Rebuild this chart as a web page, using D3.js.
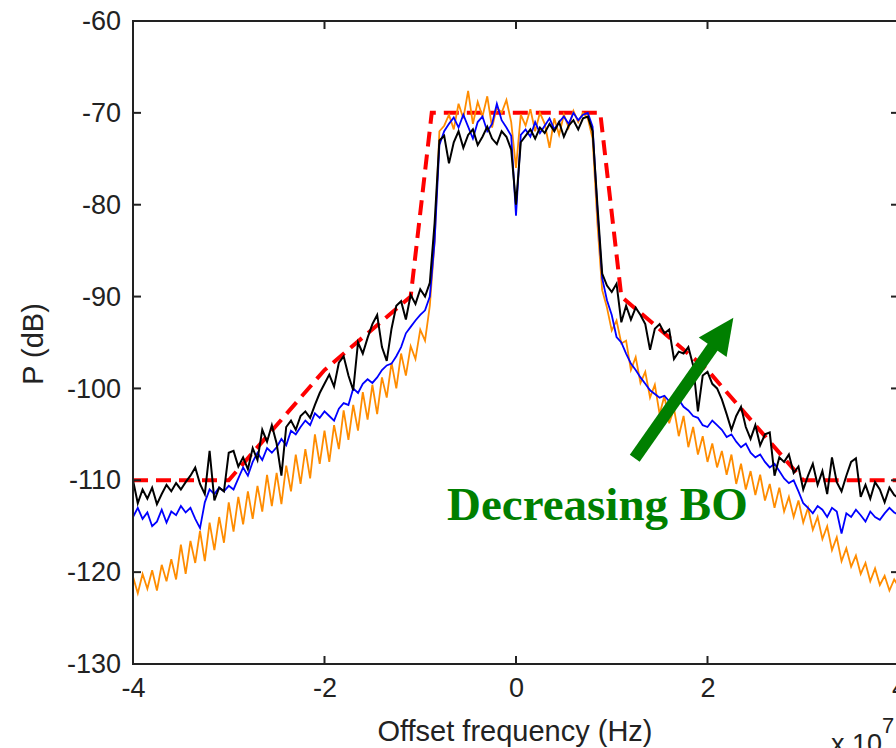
<!DOCTYPE html>
<html>
<head>
<meta charset="utf-8">
<script src="https://cdn.jsdelivr.net/npm/d3@7"></script>
<style>
  html, body { margin: 0; padding: 0; background: #fff; overflow: hidden; }
  svg { display: block; }
</style>
</head>
<body>
<svg id="chart" width="896" height="748"></svg>
<script>
// Spectrum samples: offset frequency grid in units of 1e7 Hz
const freqStart = -4;
const freqStep = 0.05;

// Measured PSD (dB) for three back-off settings
const blackTrace = [
  -110.0, -112.5, -111.0, -112.0, -110.8, -112.6, -111.5, -110.5, -111.2, -110.3,
  -111.0, -110.2, -109.5, -108.6, -110.4, -111.5, -106.8, -112.2, -110.8, -111.2,
  -107.0, -106.8, -108.5, -107.5, -108.8, -106.5, -107.8, -104.5, -105.8, -104.0,
  -106.0, -109.5, -104.2, -103.5, -104.5, -103.0, -102.5, -103.2, -101.8, -100.5,
  -99.5, -98.5, -99.8, -97.2, -96.5, -98.6, -100.2, -95.0, -96.2, -94.5,
  -93.0, -92.0, -95.5, -97.0, -93.5, -91.0, -90.5, -92.5, -89.8, -90.8,
  -89.2, -90.0, -88.5, -82.0, -73.0, -72.5, -75.5, -73.2, -72.0, -73.8,
  -72.4, -71.8, -73.5, -72.6, -71.5, -72.8, -73.4, -72.0, -72.6, -74.0,
  -80.0, -73.2, -72.5, -71.8, -72.8, -71.6, -72.2, -71.2, -72.0, -71.0,
  -72.6, -71.4, -70.8, -71.8, -70.6, -70.4, -72.0, -80.0, -87.5, -88.8,
  -89.5, -88.6, -92.8, -91.0, -92.5, -91.2, -92.0, -93.0, -95.8, -93.5,
  -93.0, -94.0, -93.6, -96.8, -96.0, -96.2, -95.5, -97.5, -102.5, -98.6,
  -98.2, -99.5, -100.0, -101.2, -102.8, -104.5, -103.0, -102.0, -104.2, -105.5,
  -104.0, -106.2, -105.0, -104.8, -109.5, -107.5, -108.0, -107.2, -109.2, -108.5,
  -111.0, -109.5, -108.2, -110.5, -109.0, -111.5, -107.5, -110.2, -111.2, -109.5,
  -108.0, -107.6, -111.8, -110.5, -112.0, -110.2, -111.0, -112.4, -110.8, -111.6,
  -112.0
];

const blueTrace = [
  -114.0, -113.0, -114.2, -113.5, -115.0, -114.5, -113.2, -114.6, -113.4, -113.8,
  -112.8, -113.5, -113.0, -114.2, -115.2, -112.4, -111.0, -111.5, -110.8, -111.2,
  -110.6, -111.0, -109.8, -108.6, -109.5, -108.0, -107.0, -107.8, -106.5, -107.0,
  -106.4, -105.5, -106.2, -104.6, -105.0, -104.2, -103.5, -104.0, -102.7, -103.2,
  -102.5, -103.0, -103.5, -102.2, -101.6, -101.8, -100.0, -100.5, -99.5, -99.0,
  -99.4, -98.8, -98.0, -97.5, -97.3, -96.5, -95.5, -94.0, -93.3, -92.6,
  -92.0, -91.5, -90.0, -84.0, -73.5, -72.0, -71.2, -70.5, -71.6, -70.2,
  -71.5, -72.8, -71.0, -70.4, -72.0, -71.2, -69.0, -70.8, -71.6, -72.5,
  -81.2, -72.4, -71.8, -72.6, -71.0, -72.2, -71.4, -70.6, -71.8, -71.0,
  -70.4, -71.2, -70.0, -70.8, -70.2, -70.0, -71.5, -80.5, -88.0, -90.4,
  -92.0, -94.4, -95.0, -96.2, -97.3, -98.0, -98.8, -99.5, -100.2, -100.6,
  -101.0, -100.8, -101.4, -101.6, -101.2, -102.0, -102.4, -103.0, -103.2, -104.0,
  -104.2, -103.5, -104.0, -104.5, -105.3, -105.0, -105.8, -106.4, -106.0, -107.0,
  -107.5, -107.2, -108.0, -108.6, -108.2, -109.0, -109.8, -110.3, -110.0, -111.2,
  -112.5, -113.0, -113.6, -112.8, -113.2, -114.0, -113.0, -113.4, -115.8, -113.6,
  -114.0, -113.2, -113.8, -114.5, -113.4, -114.0, -114.3, -113.6, -113.0, -113.5,
  -113.8
];

const orangeTrace = [
  -120.5, -122.3, -120.2, -121.8, -119.8, -122.0, -119.2, -121.0, -118.6, -120.8,
  -117.0, -120.2, -116.6, -119.0, -115.5, -118.8, -114.6, -117.6, -114.0, -116.8,
  -112.4, -115.6, -111.8, -114.8, -111.2, -114.2, -110.6, -113.4, -109.4, -112.8,
  -109.2, -112.6, -108.4, -111.2, -107.2, -110.4, -106.6, -109.8, -105.0, -108.2,
  -104.6, -108.0, -104.0, -106.6, -102.4, -105.6, -101.8, -104.6, -100.4, -103.4,
  -99.6, -102.8, -98.8, -101.0, -97.2, -100.0, -96.2, -98.6, -95.4, -96.8,
  -93.6, -94.8, -91.0, -84.0, -72.0, -71.4, -70.2, -71.8, -69.0, -70.6,
  -67.6, -71.2, -68.8, -70.4, -68.2, -71.6, -69.4, -70.0, -68.6, -71.0,
  -76.0, -70.2, -71.4, -69.6, -72.0, -70.0, -71.2, -73.8, -70.6, -72.4,
  -70.2, -71.6, -69.8, -71.0, -70.0, -70.6, -72.8, -82.0, -89.3, -91.2,
  -93.7, -92.6, -95.1, -94.8, -98.0, -96.6, -99.4, -98.2, -101.0, -99.6,
  -102.8, -100.8, -103.8, -102.2, -105.2, -103.0, -106.4, -104.2, -107.2, -105.2,
  -108.0, -106.0, -108.6, -106.8, -109.4, -107.2, -110.4, -108.2, -111.0, -109.0,
  -111.6, -109.4, -112.2, -110.4, -113.0, -110.8, -113.4, -111.8, -114.0, -112.2,
  -114.6, -113.0, -115.4, -114.0, -116.4, -115.0, -117.6, -116.2, -118.8, -117.4,
  -119.4, -118.2, -120.2, -119.0, -121.0, -119.6, -121.4, -120.4, -122.0, -120.8,
  -121.6
];

// Spectral emission mask corners
const maskFreq  = [-4, -3, -2, -1.1, -0.88, 0.88, 1.1, 2, 3, 4];
const maskLevel = [-110, -110, -98, -90, -70, -70, -90, -98, -110, -110];

// Axis ticks
const xTicks = [-4, -2, 0, 2, 4];
const yTicks = [-130, -120, -110, -100, -90, -80, -70, -60];

// Annotation arrow (data units) and its caption
const arrowFrom = [1.24, -107.6];
const arrowTo   = [2.27, -92.3];
const captionAt = [-0.72, -114.3];
const captionText = "Decreasing BO";

const svg = d3.select("#chart");
const x = d3.scaleLinear().domain([-4, 4]).range([133, 899]);
const y = d3.scaleLinear().domain([-130, -60]).range([664, 21]);

const freqs = d3.range(blackTrace.length).map(i => freqStart + i * freqStep);

const line = d3.line().x(d => x(d[0])).y(d => y(d[1]));
const zipSeries = vals => vals.map((v, i) => [freqs[i], v]);

const plot = svg.append("g");

// Mask
plot.append("path")
  .datum(maskFreq.map((f, i) => [f, maskLevel[i]]))
  .attr("d", line)
  .attr("fill", "none")
  .attr("stroke", "#ff0000")
  .attr("stroke-width", 4)
  .attr("stroke-dasharray", "15,8");

// Measured traces
const traces = [
  { vals: orangeTrace, color: "#ff8c00", w: 1.8 },
  { vals: blueTrace,   color: "#0000ff", w: 1.8 },
  { vals: blackTrace,  color: "#000000", w: 2 }
];
traces.forEach(t => {
  plot.append("path")
    .datum(zipSeries(t.vals))
    .attr("d", line)
    .attr("fill", "none")
    .attr("stroke", t.color)
    .attr("stroke-width", t.w)
    .attr("stroke-linejoin", "miter");
});

// Axes box
const axisFont = "'Liberation Sans', Arial, Helvetica, sans-serif";
const frame = svg.append("g");
frame.append("rect")
  .attr("x", x(-4)).attr("y", y(-60))
  .attr("width", x(4) - x(-4)).attr("height", y(-130) - y(-60))
  .attr("fill", "none").attr("stroke", "#222").attr("stroke-width", 2);

// Plain hyphen-minus tick labels
const plainNum = d => String(d);

const tickLen = 8;
const axLeft = d3.axisLeft(y).tickValues(yTicks).tickSize(0).tickPadding(12).tickFormat(plainNum);
const gL = svg.append("g").attr("transform", `translate(${x(-4)},0)`).call(axLeft);
gL.select(".domain").remove();
gL.selectAll("text").attr("font-family", axisFont).attr("font-size", 27).attr("fill", "#222");

const axBottom = d3.axisBottom(x).tickValues(xTicks).tickSize(0).tickPadding(14).tickFormat(plainNum);
const gB = svg.append("g").attr("transform", `translate(0,${y(-130)})`).call(axBottom);
gB.select(".domain").remove();
gB.selectAll("text").attr("font-family", axisFont).attr("font-size", 27).attr("fill", "#222");

// Inward tick marks on all four sides
const ticks = svg.append("g").attr("stroke", "#222").attr("stroke-width", 2);
yTicks.forEach(v => {
  ticks.append("line").attr("x1", x(-4)).attr("x2", x(-4) + tickLen).attr("y1", y(v)).attr("y2", y(v));
  ticks.append("line").attr("x1", x(4)).attr("x2", x(4) - tickLen).attr("y1", y(v)).attr("y2", y(v));
});
xTicks.forEach(v => {
  ticks.append("line").attr("x1", x(v)).attr("x2", x(v)).attr("y1", y(-130)).attr("y2", y(-130) - tickLen);
  ticks.append("line").attr("x1", x(v)).attr("x2", x(v)).attr("y1", y(-60)).attr("y2", y(-60) + tickLen);
});

// Axis titles
svg.append("text")
  .attr("x", (x(-4) + x(4)) / 2 - 1).attr("y", 741)
  .attr("text-anchor", "middle")
  .attr("font-family", axisFont).attr("font-size", 29).attr("fill", "#222")
  .text("Offset frequency (Hz)");

svg.append("text")
  .attr("transform", "translate(43,344) rotate(-90)")
  .attr("text-anchor", "middle")
  .attr("font-family", axisFont).attr("font-size", 29).attr("fill", "#222")
  .text("P (dB)");

const expo = svg.append("text")
  .attr("x", 831).attr("y", 753)
  .attr("font-family", axisFont).attr("font-size", 27).attr("fill", "#222");
expo.append("tspan").text("x 10");
expo.append("tspan").attr("dy", -20).attr("font-size", 22).text("7");

// Annotation arrow
const green = "#007f00";
const ax0 = x(arrowFrom[0]), ay0 = y(arrowFrom[1]);
const ax1 = x(arrowTo[0]), ay1 = y(arrowTo[1]);
const len = Math.hypot(ax1 - ax0, ay1 - ay0);
const ux = (ax1 - ax0) / len, uy = (ay1 - ay0) / len;
const headLen = 36, headHalf = 17;
const bx = ax1 - ux * headLen, by = ay1 - uy * headLen;
svg.append("line")
  .attr("x1", ax0).attr("y1", ay0).attr("x2", bx + ux * 2).attr("y2", by + uy * 2)
  .attr("stroke", green).attr("stroke-width", 12);
svg.append("polygon")
  .attr("points", [
    [ax1, ay1],
    [bx - uy * headHalf, by + ux * headHalf],
    [bx + uy * headHalf, by - ux * headHalf]
  ].map(p => p.join(",")).join(" "))
  .attr("fill", green);

svg.append("text")
  .attr("x", x(captionAt[0])).attr("y", y(captionAt[1]))
  .attr("font-family", "'Liberation Serif', 'Times New Roman', serif")
  .attr("font-weight", "bold").attr("font-size", 47).attr("fill", green)
  .text(captionText);
</script>
</body>
</html>
